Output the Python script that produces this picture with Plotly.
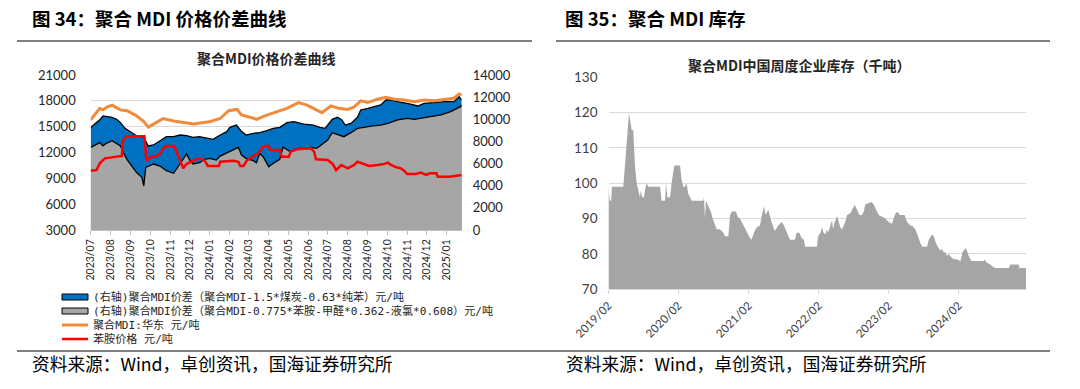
import plotly.graph_objects as go

# ---------------- Left chart data (聚合MDI价格价差曲线) ----------------
blue_dates = ["2023-07-01","2023-07-15","2023-07-20","2023-08-03","2023-08-10","2023-08-16","2023-08-23","2023-09-01",
              "2023-09-08","2023-09-21","2023-09-28","2023-10-06","2023-10-16","2023-10-26","2023-11-06","2023-11-16",
              "2023-11-26","2023-12-06","2023-12-16","2023-12-27","2024-01-06","2024-01-17","2024-01-27","2024-02-01",
              "2024-02-11","2024-02-18","2024-02-26","2024-03-08","2024-03-18","2024-03-29","2024-04-08","2024-04-18",
              "2024-04-29","2024-05-10","2024-05-25","2024-06-09","2024-06-19","2024-06-27","2024-07-08","2024-07-16",
              "2024-07-23","2024-07-28","2024-08-06","2024-08-16","2024-08-21","2024-09-01","2024-09-11","2024-09-21",
              "2024-09-29","2024-10-07","2024-10-17","2024-10-27","2024-11-06","2024-11-17","2024-11-27","2024-12-13",
              "2024-12-28","2025-01-12","2025-01-20","2025-01-24"]
blue_vals = [9250, 9950, 10300, 10180, 10000, 9700, 9180, 8880,
             8580, 8370, 7590, 7680, 8070, 8430, 8430, 8580,
             8520, 8370, 8430, 8280, 8190, 8580, 8880, 9270,
             9480, 8970, 8580, 8730, 8790, 8970, 9180, 9270,
             9690, 9790, 9570, 9480, 9270, 9180, 10000, 10180,
             9940, 9480, 9630, 10180, 10840, 10990, 11140, 11290,
             11740, 11740, 11590, 11500, 11380, 11200, 11440, 11500,
             11590, 11590, 12040, 11740]

gray_dates = ["2023-07-01","2023-07-07","2023-07-15","2023-07-20","2023-07-25","2023-08-03","2023-08-10","2023-08-16",
              "2023-08-21","2023-08-26","2023-09-03","2023-09-10","2023-09-18","2023-09-21","2023-09-24","2023-10-01",
              "2023-10-06","2023-10-16","2023-10-26","2023-11-06","2023-11-11","2023-11-21","2023-11-26","2023-12-01",
              "2023-12-06","2023-12-16","2023-12-24","2024-01-01","2024-01-11","2024-01-17","2024-01-27","2024-02-06",
              "2024-02-14","2024-02-19","2024-02-26","2024-03-08","2024-03-13","2024-03-18","2024-03-24","2024-04-01",
              "2024-04-08","2024-04-18","2024-04-23","2024-05-04","2024-05-15","2024-05-25","2024-06-05","2024-06-14",
              "2024-06-19","2024-07-01","2024-07-08","2024-07-18","2024-07-26","2024-08-06","2024-08-16","2024-08-26",
              "2024-09-06","2024-09-21","2024-10-02","2024-10-17","2024-11-01","2024-11-12","2024-11-22","2024-12-08",
              "2024-12-23","2025-01-07","2025-01-17","2025-01-22","2025-01-24"]
gray_vals = [7470, 7680, 7890, 7590, 7830, 8070, 7830, 7590,
             6920, 6380, 5720, 5180, 4760, 3970, 5660, 5870,
             5960, 5780, 5360, 5120, 5570, 6470, 6860, 6320,
             5960, 6080, 6380, 6470, 6320, 6680, 6920, 7230,
             7470, 6770, 6470, 6260, 6080, 6920, 6560, 5720,
             6020, 6380, 7470, 7080, 7380, 7380, 7470, 7380,
             7590, 8130, 8790, 8580, 8430, 8790, 9180, 9270,
             9390, 9480, 9630, 9940, 10090, 10000, 10090, 10300,
             10390, 10690, 10990, 11140, 11290]

orange_dates = ["2023-07-01","2023-07-08","2023-07-15","2023-07-20","2023-07-27","2023-08-03","2023-08-10","2023-08-16",
                "2023-08-26","2023-09-08","2023-09-21","2023-09-28","2023-10-06","2023-10-21","2023-11-06","2023-11-21",
                "2023-12-07","2023-12-20","2024-01-02","2024-01-17","2024-01-30","2024-02-12","2024-02-19","2024-03-03",
                "2024-03-13","2024-03-29","2024-04-13","2024-04-29","2024-05-17","2024-05-30","2024-06-09","2024-06-22",
                "2024-07-06","2024-07-18","2024-08-01","2024-08-11","2024-08-21","2024-09-01","2024-09-16","2024-09-29",
                "2024-10-12","2024-10-27","2024-11-12","2024-11-27","2024-12-13","2024-12-28","2025-01-12","2025-01-20",
                "2025-01-24"]
orange_vals = [15800, 16400, 17130, 16950, 17300, 17500, 17200, 16950,
               16850, 16350, 15600, 14950, 15300, 15950, 15650, 15450,
               15300, 15450, 15600, 15950, 16850, 17000, 16350, 16100,
               15850, 16350, 16750, 17130, 17800, 17500, 17130, 16630,
               17400, 17130, 17000, 17300, 18000, 17800, 18180, 18400,
               18180, 18100, 17900, 18100, 18020, 18180, 18300, 18800,
               18680]

red_dates = ["2023-07-01","2023-07-10","2023-07-15","2023-07-23","2023-08-10","2023-08-18","2023-08-20","2023-08-26",
             "2023-09-22","2023-09-25","2023-10-01","2023-10-11","2023-10-16","2023-10-24","2023-11-07","2023-11-13",
             "2023-11-16","2023-11-21","2023-11-26","2023-12-06","2023-12-16","2023-12-24","2023-12-29","2024-01-15",
             "2024-01-17","2024-02-07","2024-02-14","2024-02-17","2024-02-22","2024-02-27","2024-03-08","2024-03-16",
             "2024-03-24","2024-04-01","2024-04-03","2024-04-18","2024-04-21","2024-05-02","2024-05-05","2024-05-15",
             "2024-06-05","2024-06-10","2024-06-13","2024-07-01","2024-07-09","2024-07-14","2024-07-22","2024-07-27",
             "2024-08-01","2024-08-06","2024-08-11","2024-08-16","2024-08-26","2024-09-03","2024-09-16","2024-09-26",
             "2024-10-02","2024-10-07","2024-10-15","2024-10-22","2024-10-27","2024-11-01","2024-11-14","2024-11-22",
             "2024-11-30","2024-12-06","2024-12-16","2024-12-18","2025-01-05","2025-01-12","2025-01-24"]
red_vals = [9890, 9970, 10740, 11320, 11520, 11590, 13450, 13900,
            13900, 11050, 11440, 11590, 11900, 12750, 12750, 11710,
            11050, 10160, 10660, 11050, 11320, 11050, 10430, 10430,
            10930, 11050, 10930, 10430, 10430, 11050, 11590, 11900,
            12750, 12750, 12290, 12290, 11520, 11520, 12100, 12370,
            12480, 12100, 11210, 11130, 10660, 9950, 10550, 10360,
            10160, 10360, 10550, 10930, 10660, 10430, 10550, 10660,
            10820, 10550, 10280, 10160, 9890, 9500, 9500, 9660,
            9390, 9580, 9580, 9190, 9190, 9270, 9390]

legend_names = ["(右轴)聚合MDI价差（聚合MDI-1.5*煤炭-0.63*纯苯）元/吨",
                "(右轴)聚合MDI价差（聚合MDI-0.775*苯胺-甲醛*0.362-液氯*0.608）元/吨",
                "聚合MDI:华东 元/吨",
                "苯胺价格 元/吨"]
legend_colors = ["#0070C0", "#A6A6A6", "#F08A3C", "#FF0000"]

# ---------------- Right chart data (聚合MDI中国周度企业库存) ----------------
inv_dates = ["2019-02-01","2019-02-08","2019-02-15","2019-02-19","2019-04-19","2019-05-03","2019-05-19","2019-05-24",
             "2019-06-02","2019-06-10","2019-06-19","2019-06-28","2019-07-10","2019-07-15","2019-07-20","2019-07-27",
             "2019-08-05","2019-08-10","2019-08-19","2019-08-28","2019-10-28","2019-11-02","2019-11-05","2019-11-23",
             "2019-11-28","2019-12-05","2019-12-19","2019-12-27","2020-01-10","2020-02-09","2020-02-17","2020-02-26",
             "2020-03-06","2020-03-14","2020-03-23","2020-04-01","2020-04-10","2020-06-09","2020-06-13","2020-06-18",
             "2020-06-23","2020-07-06","2020-07-18","2020-07-28","2020-08-09","2020-08-18","2020-09-04","2020-09-22",
             "2020-09-30","2020-10-18","2020-10-27","2020-11-05","2020-11-27","2020-12-05","2020-12-17","2021-01-04",
             "2021-01-21","2021-02-08","2021-02-16","2021-02-28","2021-03-14","2021-04-01","2021-04-09","2021-04-22",
             "2021-04-30","2021-05-14","2021-05-31","2021-06-17","2021-07-05","2021-07-23","2021-08-04","2021-08-18",
             "2021-09-04","2021-09-30","2021-10-09","2021-10-23","2021-11-04","2021-11-16","2021-11-22","2022-01-23",
             "2022-01-29","2022-02-10","2022-02-18","2022-02-27","2022-03-08","2022-03-16","2022-03-22","2022-04-03",
             "2022-04-12","2022-04-17","2022-04-25","2022-05-08","2022-05-16","2022-05-25","2022-06-03","2022-06-20",
             "2022-06-29","2022-07-16","2022-07-25","2022-08-08","2022-08-20","2022-09-01","2022-09-15","2022-09-24",
             "2022-10-02","2022-10-20","2022-11-03","2022-11-15","2022-11-27","2022-12-11","2022-12-28","2023-01-15",
             "2023-02-01","2023-02-18","2023-03-08","2023-03-20","2023-03-30","2023-04-11","2023-04-25","2023-05-08",
             "2023-05-25","2023-06-06","2023-06-20","2023-07-04","2023-07-16","2023-07-28","2023-08-20","2023-08-29",
             "2023-09-15","2023-09-24","2023-10-06","2023-10-20","2023-10-28","2023-11-06","2023-11-15","2023-11-23",
             "2023-12-02","2023-12-11","2023-12-25","2024-01-06","2024-01-23","2024-02-10","2024-02-22","2024-03-07",
             "2024-03-15","2024-03-24","2024-04-07","2024-06-10","2024-06-14","2024-06-19","2024-06-28","2024-07-15",
             "2024-07-24","2024-08-10","2024-10-19","2024-10-27","2024-12-10","2024-12-14","2025-01-17"]
inv_vals = [99, 95, 95, 99, 99, 108, 120, 118,
            115, 115, 105, 100, 96.5, 96, 98, 96,
            96, 98, 100, 99, 99, 97, 95, 95,
            100, 96, 96, 100, 105, 105, 101, 99,
            99, 100, 97, 96, 95, 95, 96, 90,
            95, 93.5, 92, 90, 88, 87, 87, 86,
            85, 85, 91, 92, 92, 90.5, 90, 88,
            86.5, 84.5, 84, 86, 87.5, 88, 90.5, 93.5,
            91, 92.5, 89, 86.5, 88, 89, 88, 86,
            84, 84, 86, 86, 84.5, 84, 82, 82,
            85, 86, 87.5, 86, 85.5, 87, 86, 88,
            89.5, 87, 89, 90.7, 89, 87.5, 87, 89,
            91, 91.5, 92.5, 93.8, 92.5, 91, 91, 92,
            94, 94.4, 94.7, 94, 92.5, 91, 90.5, 90,
            89, 88.5, 91.4, 91.9, 91, 91, 91, 89,
            88, 87.8, 87, 85, 83, 82, 82, 84,
            85.5, 85, 83, 81.5, 81, 81.4, 80.5, 80.5,
            79.5, 80, 79, 78.5, 78.5, 78, 80.6, 81.6,
            81, 79.5, 78, 78, 78.5, 78, 77.5, 77,
            76.5, 76, 76, 77, 77, 76, 76]

left_y_ticks = [3000, 6000, 9000, 12000, 15000, 18000, 21000]
right_y_ticks = [0, 2000, 4000, 6000, 8000, 10000, 12000, 14000]
inv_y_ticks = [70, 80, 90, 100, 110, 120, 130]

# ---------------- layout helpers ----------------
W, H = 1080, 389
def px(x):
    return x / W
def py(y):
    return 1 - y / H

CJK = "Noto Sans CJK SC"
NUM = "Lato, Noto Sans CJK SC"
LEG = "DejaVu Sans Mono, Noto Sans CJK SC"

fig = go.Figure()
fig.add_trace(go.Scatter(x=blue_dates, y=blue_vals, xaxis="x", yaxis="y", mode="lines", fill="tozeroy",
                         fillcolor=legend_colors[0], line=dict(color="#000000", width=1.3),
                         name=legend_names[0], showlegend=False))
fig.add_trace(go.Scatter(x=gray_dates, y=gray_vals, xaxis="x", yaxis="y", mode="lines", fill="tozeroy",
                         fillcolor=legend_colors[1], line=dict(color="#000000", width=1.3),
                         name=legend_names[1], showlegend=False))
fig.add_trace(go.Scatter(x=orange_dates, y=orange_vals, xaxis="x", yaxis="y2", mode="lines",
                         line=dict(color=legend_colors[2], width=3), name=legend_names[2], showlegend=False))
fig.add_trace(go.Scatter(x=red_dates, y=red_vals, xaxis="x", yaxis="y2", mode="lines",
                         line=dict(color=legend_colors[3], width=2.5), name=legend_names[3], showlegend=False))
fig.add_trace(go.Scatter(x=inv_dates, y=inv_vals, xaxis="x2", yaxis="y3", mode="lines", fill="tozeroy",
                         fillcolor="#A5A5A5", line=dict(color="#A5A5A5", width=0), showlegend=False))

fig.update_layout(
    width=W, height=H, margin=dict(l=0, r=0, t=0, b=0, pad=0, autoexpand=False),
    paper_bgcolor="white", plot_bgcolor="white", showlegend=False,
    xaxis=dict(domain=[px(90.7), px(461.7)], anchor="y", type="date", automargin=False,
               range=["2023-07-01", "2025-01-24"], dtick="M1", tick0="2023-07-01", tickformat="%Y/%m",
               tickangle=-90, ticks="outside", ticklen=4, tickcolor="#BFBFBF",
               showline=True, linecolor="#BFBFBF", showgrid=False,
               tickfont=dict(family=NUM, size=10.5, color="#262626")),
    yaxis=dict(domain=[py(230), py(75)], anchor="x", side="right", range=[0, 14000], automargin=False,
               tickvals=right_y_ticks, tickformat="d", showgrid=False, zeroline=False, ticks="",
               tickfont=dict(family=NUM, size=13, color="#262626"), ticklabelstandoff=10),
    yaxis2=dict(overlaying="y", anchor="x", side="left", range=[3000, 21000], tickvals=left_y_ticks,
                tickformat="d", automargin=False,
                showgrid=True, gridcolor="#D9D9D9", zeroline=False, ticks="",
                tickfont=dict(family=NUM, size=13, color="#262626"), ticklabelstandoff=14),
    xaxis2=dict(domain=[px(608.5), px(1026)], anchor="y3", type="date", automargin=False,
                range=["2019-02-01", "2025-01-17"], dtick="M12", tick0="2019-02-01", tickformat="%Y/%m",
                tickangle=-45, ticks="outside", ticklen=4, tickcolor="#D9D9D9",
                showline=True, linecolor="#D9D9D9", showgrid=False,
                tickfont=dict(family=NUM, size=11.5, color="#404040")),
    yaxis3=dict(domain=[py(289.3), py(77)], anchor="x2", range=[70, 130], tickvals=inv_y_ticks,
                tickformat="d", automargin=False,
                showgrid=True, gridcolor="#D9D9D9", zeroline=False, ticks="",
                tickfont=dict(family=NUM, size=13.5, color="#404040"), ticklabelstandoff=10),
)

# legend rows (manual, compact like the original)
row_y = [297, 311, 325, 339]
legend_text = "<br>".join('<span style="font-size:11.1px">%s</span>' % n for n in legend_names)
annotations = [
    dict(text="<b>图 34：聚合 MDI 价格价差曲线</b>", x=px(30), y=py(18), xanchor="left", yanchor="middle",
         font=dict(family=CJK, size=18.5, color="#000000")),
    dict(text="<b>图 35：聚合 MDI 库存</b>", x=px(563), y=py(18), xanchor="left", yanchor="middle",
         font=dict(family=CJK, size=18.5, color="#000000")),
    dict(text="<b>聚合MDI价格价差曲线</b>", x=px(266), y=py(58), xanchor="center", yanchor="middle",
         font=dict(family=CJK, size=14, color="#262626")),
    dict(text="<b>聚合MDI中国周度企业库存（千吨）</b>", x=px(799), y=py(65), xanchor="center", yanchor="middle",
         font=dict(family=CJK, size=14, color="#262626")),
    dict(text="资料来源：Wind，卓创资讯，国海证券研究所", x=px(30), y=py(363), xanchor="left", yanchor="middle",
         font=dict(family=CJK, size=17.7, color="#000000")),
    dict(text="资料来源：Wind，卓创资讯，国海证券研究所", x=px(564), y=py(363), xanchor="left", yanchor="middle",
         font=dict(family=CJK, size=17.7, color="#000000")),
    dict(text=legend_text, x=px(92), y=py(sum(row_y) / 4), xanchor="left", yanchor="middle",
         align="left", borderpad=0, font=dict(family=LEG, size=10.77, color="#262626")),
]
for a in annotations:
    a.update(xref="paper", yref="paper", showarrow=False)
fig.update_layout(annotations=annotations)

line_style = dict(color="#808080", width=2)
shapes = [
    dict(type="line", x0=px(17), x1=px(532), y0=py(41), y1=py(41), line=line_style),
    dict(type="line", x0=px(556), x1=px(1050), y0=py(41), y1=py(41), line=line_style),
    dict(type="line", x0=px(17), x1=px(1050), y0=py(351), y1=py(351), line=line_style),
    # legend swatches
    dict(type="rect", x0=px(62), x1=px(88), y0=py(row_y[0] + 3), y1=py(row_y[0] - 3),
         fillcolor=legend_colors[0], line=dict(color="#000000", width=1)),
    dict(type="rect", x0=px(62), x1=px(88), y0=py(row_y[1] + 3), y1=py(row_y[1] - 3),
         fillcolor=legend_colors[1], line=dict(color="#000000", width=1)),
    dict(type="line", x0=px(62), x1=px(88), y0=py(row_y[2]), y1=py(row_y[2]),
         line=dict(color=legend_colors[2], width=3)),
    dict(type="line", x0=px(62), x1=px(88), y0=py(row_y[3]), y1=py(row_y[3]),
         line=dict(color=legend_colors[3], width=2.5)),
]
for s in shapes:
    s.update(xref="paper", yref="paper")
fig.update_layout(shapes=shapes)

fig.write_html("out.html", config={"displayModeBar": False},
               post_script="document.body.style.margin='0';document.body.style.overflow='hidden';")
